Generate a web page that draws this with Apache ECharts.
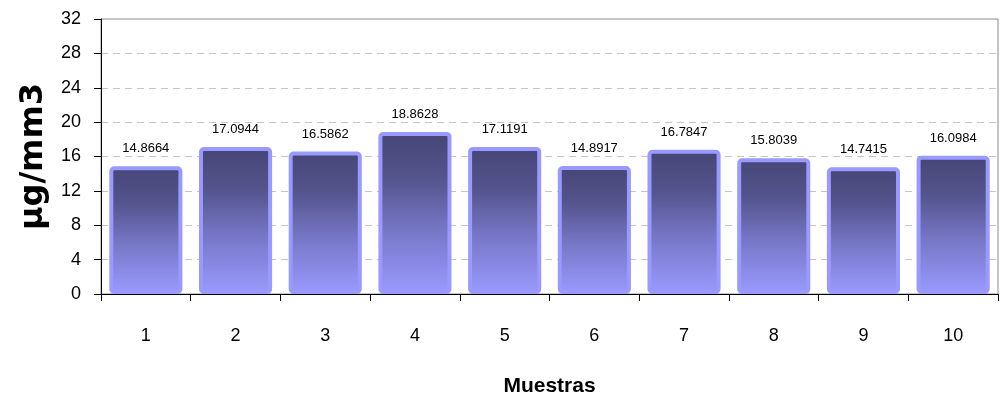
<!DOCTYPE html>
<html>
<head>
<meta charset="utf-8">
<script src="https://cdn.jsdelivr.net/npm/echarts@6/dist/echarts.min.js"></script>
<style>
  html, body { margin: 0; padding: 0; background: #ffffff; }
  #chart { width: 1003px; height: 398px; }
</style>
</head>
<body>
<div id="chart"></div>
<script>
// Samples along the x axis
const categories = ['1', '2', '3', '4', '5', '6', '7', '8', '9', '10'];
// Measured concentration per sample (µg/mm3)
const values = [14.8664, 17.0944, 16.5862, 18.8628, 17.1191, 14.8917, 16.7847, 15.8039, 14.7415, 16.0984];
// Value axis range and step
const yMin = 0;
const yMax = 32;
const yStep = 4;

const chart = echarts.init(document.getElementById('chart'), null, { renderer: 'canvas' });

// Dark-to-light vertical fill inside each bar
const barFill = new echarts.graphic.LinearGradient(0, 0, 0, 1, [
  { offset: 0, color: '#454575' },
  { offset: 0.3, color: '#55558f' },
  { offset: 0.6, color: '#7676c6' },
  { offset: 1, color: '#9a9aff' }
]);

chart.setOption({
  animation: false,
  backgroundColor: '#ffffff',
  textStyle: { fontFamily: 'Liberation Sans, Arial, sans-serif' },
  grid: {
    left: 101,
    right: 5,
    top: 19,
    bottom: 104,
    outerBoundsMode: 'none',
    containLabel: false,
    show: true,
    borderColor: '#8a8a8a',
    borderWidth: 1,
    backgroundColor: 'transparent'
  },
  xAxis: {
    type: 'category',
    data: categories,
    z: 10,
    name: 'Muestras',
    nameLocation: 'middle',
    nameGap: 82,
    nameTextStyle: { fontSize: 21, fontWeight: 'bold', color: '#000' },
    axisLine: { lineStyle: { color: '#000', width: 1 } },
    axisTick: { show: true, length: 7, alignWithLabel: false, lineStyle: { color: '#000' } },
    axisLabel: { fontSize: 18, color: '#000', margin: 33 },
    splitLine: { show: false }
  },
  yAxis: {
    type: 'value',
    min: yMin,
    max: yMax,
    interval: yStep,
    name: 'µg/mm3',
    nameLocation: 'middle',
    nameGap: 51,
    nameTextStyle: {
      fontSize: 32,
      fontWeight: 'bold',
      color: '#000',
      fontFamily: 'DejaVu Sans, sans-serif'
    },
    axisLine: { show: true, lineStyle: { color: '#000', width: 1 } },
    axisTick: { show: true, length: 7, lineStyle: { color: '#000' } },
    axisLabel: { fontSize: 18, color: '#000', margin: 20 },
    splitLine: { show: true, lineStyle: { color: '#c4c4c4', type: [7, 5], width: 1 } }
  },
  series: [{
    type: 'bar',
    data: values,
    barWidth: '81.5%',
    itemStyle: {
      color: barFill,
      borderColor: '#9999ff',
      borderWidth: 4,
      borderRadius: 3
    },
    label: {
      show: true,
      position: 'top',
      distance: 11,
      fontSize: 13,
      color: '#000',
      formatter: (p) => p.value.toFixed(4)
    }
  }]
});
</script>
</body>
</html>
